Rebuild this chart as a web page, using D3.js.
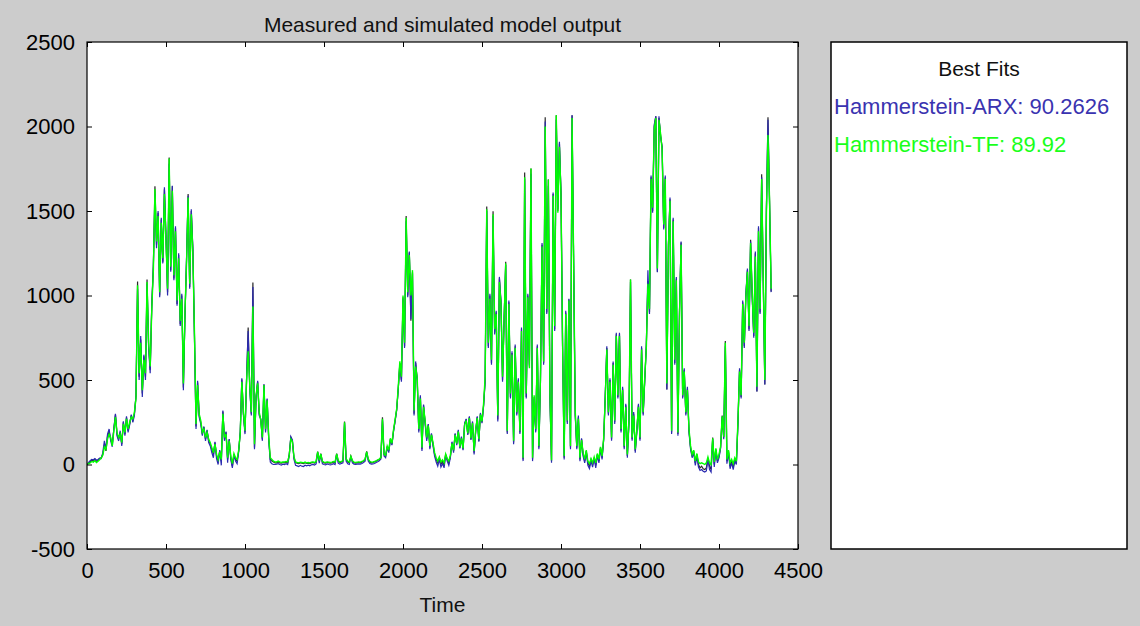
<!DOCTYPE html>
<html>
<head>
<meta charset="utf-8">
<script src="https://cdn.jsdelivr.net/npm/d3@7"></script>
<style>
  html, body { margin: 0; padding: 0; background: #cccccc; }
  svg { display: block; font-family: "Liberation Sans", Arial, sans-serif; }
</style>
</head>
<body>
<svg id="chart" width="1140" height="626"></svg>
<script>
// measured vs simulated output, one sample every 10 time units starting at 0
var sampleStep = 10;

var measured = [
  0, 8, 15, 25, 20, 30, 18, 25, 35, 40,
  60, 118, 80, 166, 195, 150, 120, 210, 296, 180,
  150, 190, 120, 250, 180, 278, 200, 240, 290, 260,
  300, 403, 1083, 520, 740, 420, 640, 520, 1095, 700,
  560, 935, 1172, 1646, 1300, 1490, 1000, 1450, 1200, 1628,
  1340, 1020, 1817, 1150, 1646, 1100, 1400, 950, 1240, 830,
  1000, 456, 880, 1210, 1600, 1050, 1500, 1270, 770, 225,
  485, 290, 250, 180, 220, 150, 200, 140, 120, 90,
  60, 130, 50, 20, 80, 20, 313, 150, 190, 30,
  148, 40, -10, 60, 30, 20, 80, 190, 503, 300,
  190, 503, 810, 460, 300, 1077, 100, 400, 490, 300,
  266, 148, 473, 200, 385, 155, 30, 20, 15, 10,
  10, 15, 10, 8, 12, 10, 15, 10, 60, 160,
  140, 40, 10, 8, 5, 10, 8, 5, 10, 6,
  8, 5, 10, 12, 8, 15, 77, 20, 65, 15,
  10, 8, 12, 10, 8, 10, 15, 10, 65, 20,
  10, 15, 20, 255, 30, 15, 10, 50, 20, 10,
  8, 10, 12, 10, 15, 20, 30, 77, 30, 15,
  10, 12, 15, 20, 25, 30, 40, 280, 60, 50,
  107, 80, 150, 120, 200, 260, 325, 450, 600, 500,
  990, 700, 1470, 1000, 1255, 850, 1137, 300, 600, 503,
  200, 400, 90, 350, 250, 150, 237, 100, 180, 120,
  60, 30, 10, 40, 0, 20, -5, 60, 30, 10,
  50, 130, 80, 180, 120, 200, 100, 160, 90, 240,
  266, 180, 280, 150, 250, 70, 200, 280, 140, 300,
  250, 350, 500, 1527, 700, 1000, 600, 1498, 780, 900,
  266, 1100, 960, 500, 860, 1200, 190, 960, 400, 660,
  130, 700, 300, 500, 190, 800, 30, 1728, 400, 1000,
  580, 1752, 30, 400, 200, 700, 100, 500, 1300, 600,
  2054, 900, 1687, 400, 20, 1600, 800, 2066, 1500, 1900,
  1600, 700, 40, 900, 250, 977, 100, 2066, 1200, 300,
  100, 280, 30, 150, 60, 20, 80, 10, -10, 30,
  0, 40, -5, 60, 20, 100, 40, 150, 400, 690,
  300, 500, 150, 600, 250, 770, 400, 770, 200, 450,
  100, 350, 50, 250, 1095, 150, 300, 80, 200, 350,
  150, 690, 300, 500, 700, 1085, 900, 1700, 1500, 2000,
  2060, 1140, 2050, 1950, 1876, 1400, 1700, 444, 1300, 1570,
  190, 1450, 600, 1100, 180, 900, 1314, 400, 560, 300,
  450, 200, 100, 50, 80, 10, 60, 0, -20, -10,
  -25, -30, -20, 40, -10, -30, 160, 0, 90, 20,
  50, 100, 290, 160, 730, 20, 80, -10, 20, -15,
  30, 10, 250, 560, 400, 960, 700, 1000, 1150, 800,
  1330, 1000, 760, 1250, 432, 1400, 900, 1717, 1100, 473,
  1500, 2054, 1550, 1024
];

var hammersteinArx = [
  0, 12, 22, 30, 28, 35, 25, 30, 38, 35,
  70, 140, 95, 180, 210, 140, 105, 215, 300, 170,
  140, 200, 110, 255, 170, 285, 190, 235, 295, 250,
  290, 410, 1040, 500, 760, 400, 650, 500, 1070, 690,
  540, 950, 1180, 1600, 1280, 1500, 990, 1460, 1190, 1640,
  1350, 1000, 1780, 1140, 1650, 1090, 1410, 940, 1250, 820,
  1010, 440, 870, 1220, 1590, 1040, 1510, 1280, 760, 210,
  495, 280, 240, 170, 225, 140, 205, 130, 110, 70,
  40, 135, 35, 0, 85, -5, 320, 140, 195, 10,
  150, 30, -20, 55, 20, 5, 75, 195, 510, 290,
  180, 510, 790, 450, 290, 1050, 90, 390, 495, 290,
  270, 140, 475, 190, 390, 145, 15, 5, 0, 0,
  2, 5, 0, -3, 2, 0, 5, 0, 50, 165,
  145, 30, -5, -8, -12, -5, -10, -12, -4, -8,
  -4, -8, -2, 0, -4, 4, 70, 8, 60, 4,
  0, -2, 3, 0, -2, 0, 5, 0, 60, 8,
  2, 6, 10, 245, 20, 4, 0, 45, 10, 2,
  0, 2, 4, 2, 6, 12, 20, 72, 20, 6,
  2, 4, 6, 12, 16, 22, 32, 265, 50, 40,
  100, 70, 145, 115, 195, 255, 320, 445, 595, 490,
  980, 690, 1440, 990, 1260, 860, 1130, 290, 610, 495,
  190, 410, 80, 355, 240, 140, 240, 90, 185, 110,
  50, 15, -10, 30, -15, 5, -20, 55, 20, -5,
  40, 135, 70, 185, 115, 205, 95, 165, 85, 245,
  270, 175, 285, 145, 255, 60, 195, 285, 135, 305,
  245, 345, 490, 1500, 690, 1010, 590, 1470, 770, 910,
  255, 1110, 970, 490, 870, 1180, 180, 970, 390, 670,
  120, 710, 290, 510, 180, 810, 20, 1690, 390, 1010,
  590, 1720, 20, 390, 190, 710, 90, 490, 1310, 590,
  2030, 890, 1650, 390, 10, 1610, 790, 2040, 1510, 1910,
  1610, 690, 30, 910, 240, 980, 90, 2066, 1190, 290,
  90, 290, 20, 155, 50, 10, 75, -5, -25, 20,
  -15, 35, -20, 55, 10, 95, 30, 145, 410, 700,
  290, 510, 140, 610, 240, 780, 390, 780, 190, 460,
  90, 360, 40, 240, 1080, 140, 310, 70, 190, 360,
  140, 700, 290, 490, 710, 1150, 890, 1710, 1490, 2010,
  2060, 1137, 2060, 1940, 1880, 1390, 1710, 444, 1310, 1580,
  180, 1460, 590, 1110, 170, 910, 1320, 390, 570, 290,
  460, 190, 90, 40, 70, -5, 50, -15, -35, -30,
  -40, -45, -38, 30, -30, -45, 150, -15, 85, 10,
  40, 95, 280, 150, 700, 5, 70, -25, 10, -30,
  20, 0, 240, 570, 390, 970, 690, 1010, 1160, 790,
  1320, 990, 750, 1260, 432, 1410, 890, 1700, 1090, 473,
  1510, 2040, 1540, 1020
];

var hammersteinTf = [
  0, 6, 10, 18, 14, 22, 12, 20, 28, 38,
  55, 105, 90, 150, 180, 160, 110, 200, 280, 190,
  160, 180, 130, 240, 190, 270, 210, 250, 280, 270,
  310, 390, 1060, 540, 720, 440, 620, 540, 1080, 720,
  580, 920, 1150, 1630, 1320, 1470, 1020, 1430, 1220, 1600,
  1320, 1040, 1810, 1170, 1620, 1120, 1380, 970, 1220, 850,
  980, 480, 900, 1190, 1580, 1070, 1480, 1250, 790, 240,
  470, 300, 260, 190, 210, 160, 190, 150, 130, 100,
  70, 120, 60, 30, 75, 30, 300, 160, 180, 40,
  140, 50, 5, 65, 40, 30, 85, 185, 490, 310,
  200, 500, 670, 470, 310, 935, 120, 410, 480, 310,
  260, 160, 470, 210, 380, 165, 40, 30, 20, 15,
  15, 20, 15, 12, 15, 15, 18, 15, 55, 150,
  135, 45, 15, 12, 10, 14, 12, 10, 14, 10,
  12, 10, 14, 15, 12, 18, 75, 25, 62, 18,
  14, 12, 15, 14, 12, 14, 18, 14, 62, 24,
  14, 18, 22, 250, 35, 20, 14, 48, 22, 14,
  12, 14, 15, 14, 18, 22, 32, 75, 32, 18,
  14, 15, 18, 22, 28, 32, 42, 270, 62, 55,
  110, 85, 155, 125, 205, 265, 330, 460, 610, 520,
  1000, 720, 1460, 1020, 1240, 1000, 1150, 320, 580, 510,
  210, 390, 100, 340, 260, 160, 230, 110, 175, 130,
  70, 40, 20, 45, 15, 28, 10, 62, 35, 20,
  55, 125, 85, 175, 125, 195, 105, 155, 95, 235,
  260, 185, 275, 155, 245, 80, 205, 275, 150, 295,
  255, 360, 520, 1510, 720, 980, 620, 1480, 800, 890,
  290, 1080, 950, 520, 850, 1190, 200, 950, 420, 650,
  140, 690, 310, 490, 200, 790, 40, 1700, 420, 990,
  570, 1752, 40, 410, 210, 690, 110, 510, 1290, 610,
  2000, 920, 1687, 420, 25, 1590, 820, 2066, 1490, 1880,
  1590, 720, 50, 890, 260, 970, 110, 2050, 1210, 320,
  110, 270, 40, 145, 70, 30, 85, 20, 5, 35,
  10, 45, 10, 65, 30, 105, 50, 155, 390, 680,
  310, 490, 160, 590, 260, 760, 410, 760, 210, 440,
  110, 340, 60, 260, 1095, 160, 290, 90, 210, 340,
  160, 680, 310, 510, 690, 1070, 920, 1690, 1520, 1980,
  2050, 1160, 2040, 1960, 1860, 1420, 1690, 480, 1290, 1560,
  200, 1440, 620, 1090, 190, 890, 1300, 410, 550, 310,
  440, 210, 110, 60, 85, 20, 65, 15, 5, 10,
  5, 0, 10, 45, 10, 0, 155, 15, 95, 30,
  60, 105, 285, 165, 720, 30, 85, 10, 30, 5,
  40, 20, 260, 550, 410, 950, 720, 990, 1140, 820,
  1310, 1020, 780, 1230, 460, 1380, 920, 1690, 1110, 500,
  1480, 1950, 1560, 1040
];

var xTicks = [0, 500, 1000, 1500, 2000, 2500, 3000, 3500, 4000, 4500];
var yTicks = [-500, 0, 500, 1000, 1500, 2000, 2500];
var legendTitle = "Best Fits";
var fitLabels = ["Hammerstein-ARX: 90.2626", "Hammerstein-TF: 89.92"];

var svg = d3.select("#chart");
var plot = { left: 87, top: 42, right: 798, bottom: 549 };

var x = d3.scaleLinear().domain([0, 4500]).range([plot.left, plot.right]);
var y = d3.scaleLinear().domain([-500, 2500]).range([plot.bottom, plot.top]);

// plot background
svg.append("rect")
  .attr("x", plot.left).attr("y", plot.top)
  .attr("width", plot.right - plot.left).attr("height", plot.bottom - plot.top)
  .attr("fill", "#ffffff");

svg.append("clipPath").attr("id", "clip")
  .append("rect")
  .attr("x", plot.left).attr("y", plot.top)
  .attr("width", plot.right - plot.left).attr("height", plot.bottom - plot.top);

var line = d3.line()
  .x(function (d, i) { return x(i * sampleStep); })
  .y(function (d) { return y(d); });

var series = [
  { values: measured, color: "#2a2a2a", width: 1.2, text: null },
  { values: hammersteinArx, color: "#2b2bb0", width: 1.2, text: "#3a33b0" },
  { values: hammersteinTf, color: "#00ff00", width: 1.4, text: "#1aff1a" }
];

var lines = svg.append("g").attr("clip-path", "url(#clip)");
series.forEach(function (s) {
  lines.append("path")
    .datum(s.values)
    .attr("fill", "none")
    .attr("stroke", s.color)
    .attr("stroke-width", s.width)
    .attr("stroke-linejoin", "miter")
    .attr("d", line);
});

// axes, ticks point inward like matlab
function styleAxis(g) {
  g.select(".domain").remove();
  g.selectAll(".tick line").attr("stroke", "#000");
  g.selectAll(".tick text").attr("fill", "#000").attr("font-size", 22);
}
var plain = function (d) { return String(d); };

svg.append("g")
  .attr("transform", "translate(0," + plot.bottom + ")")
  .call(d3.axisBottom(x).tickValues(xTicks).tickSize(-5).tickPadding(13).tickFormat(plain))
  .call(styleAxis);
svg.append("g")
  .attr("transform", "translate(0," + plot.top + ")")
  .call(d3.axisTop(x).tickValues(xTicks).tickSize(-5).tickFormat(""))
  .call(styleAxis);
svg.append("g")
  .attr("transform", "translate(" + plot.left + ",0)")
  .call(d3.axisLeft(y).tickValues(yTicks).tickSize(-5).tickPadding(12).tickFormat(plain))
  .call(styleAxis);
svg.append("g")
  .attr("transform", "translate(" + plot.right + ",0)")
  .call(d3.axisRight(y).tickValues(yTicks).tickSize(-5).tickFormat(""))
  .call(styleAxis);

svg.append("rect")
  .attr("x", plot.left).attr("y", plot.top)
  .attr("width", plot.right - plot.left).attr("height", plot.bottom - plot.top)
  .attr("fill", "none").attr("stroke", "#000").attr("stroke-width", 1.2);

svg.append("text")
  .attr("x", (plot.left + plot.right) / 2).attr("y", 32)
  .attr("text-anchor", "middle").attr("font-size", 21).attr("fill", "#111")
  .text("Measured and simulated model output");

svg.append("text")
  .attr("x", (plot.left + plot.right) / 2).attr("y", 612)
  .attr("text-anchor", "middle").attr("font-size", 21).attr("fill", "#111")
  .text("Time");

// legend panel with best fits
var legend = { left: 831, top: 42, right: 1127, bottom: 549 };
svg.append("rect")
  .attr("x", legend.left).attr("y", legend.top)
  .attr("width", legend.right - legend.left).attr("height", legend.bottom - legend.top)
  .attr("fill", "#fff").attr("stroke", "#000").attr("stroke-width", 1.5);

svg.append("text")
  .attr("x", (legend.left + legend.right) / 2).attr("y", 76)
  .attr("text-anchor", "middle").attr("font-size", 21).attr("fill", "#111")
  .text(legendTitle);

fitLabels.forEach(function (label, i) {
  svg.append("text")
    .attr("x", legend.left + 3).attr("y", 114 + i * 38)
    .attr("font-size", 22).attr("fill", series[i + 1].text)
    .text(label);
});
</script>
</body>
</html>
